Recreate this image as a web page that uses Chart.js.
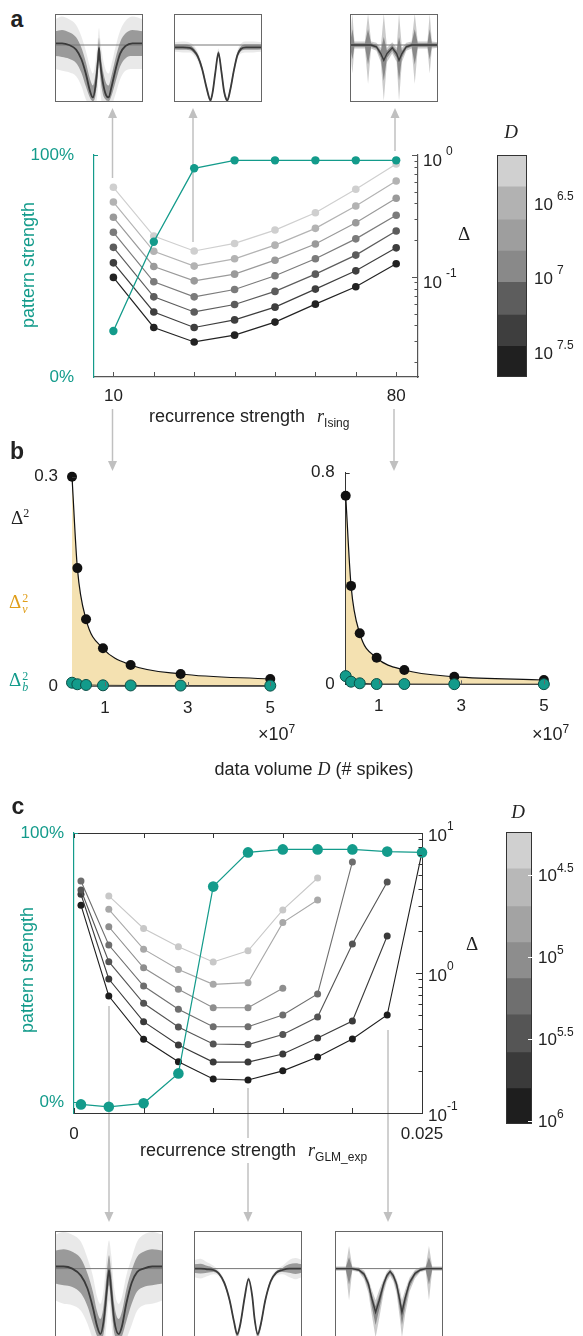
<!DOCTYPE html>
<html>
<head>
<meta charset="utf-8">
<script src="https://cdn.jsdelivr.net/npm/chart.js@4/dist/chart.umd.min.js"></script>
<style>
body { margin: 0; width: 583px; height: 1336px; overflow: hidden; background: #fff; position: relative;
       font-family: "Liberation Sans", Arial, sans-serif; color: #222; font-size: 18px; }
canvas, svg { position: absolute; }
.t { position: absolute; white-space: nowrap; transform: translate(-50%, -50%); }
.tl { position: absolute; white-space: nowrap; transform: translate(0, -50%); }
.m { font-family: "Liberation Serif", "DejaVu Serif", serif; }
.lt { font-weight: bold; font-size: 23px; }
.st { display: inline-flex; flex-direction: column; font-size: 12px; line-height: 11px; vertical-align: middle; margin-left: 1px; }
sup { font-size: 12px; vertical-align: 7px; }
sub { font-size: 12px; vertical-align: -5px; }
</style>
</head>
<body>

<svg width="583" height="1336" style="left:0;top:0">
  <g stroke="#c0c0c0" stroke-width="1.5">
    <line x1="112.5" y1="117" x2="112.5" y2="178"/>
    <line x1="193" y1="117" x2="193" y2="242"/>
    <line x1="395" y1="117" x2="395" y2="151"/>
    <line x1="112.5" y1="409" x2="112.5" y2="462"/>
    <line x1="394" y1="409" x2="394" y2="462"/>
    <line x1="109" y1="1006" x2="109" y2="1213"/>
    <line x1="248" y1="1088" x2="248" y2="1138"/>
    <line x1="248" y1="1163" x2="248" y2="1213"/>
    <line x1="388" y1="1030" x2="388" y2="1213"/>
  </g>
  <g fill="#c0c0c0">
    <polygon points="112.5,108 108,118 117,118"/>
    <polygon points="193,108 188.5,118 197.5,118"/>
    <polygon points="395,108 390.5,118 399.5,118"/>
    <polygon points="112.5,471 108,461 117,461"/>
    <polygon points="394,471 389.5,461 398.5,461"/>
    <polygon points="109,1222 104.5,1212 113.5,1212"/>
    <polygon points="248,1222 243.5,1212 252.5,1212"/>
    <polygon points="388,1222 383.5,1212 392.5,1212"/>
  </g>
</svg>

<canvas id="insA1" width="88" height="88" style="left:55px;top:14px"></canvas>
<canvas id="insA2" width="88" height="88" style="left:174px;top:14px"></canvas>
<canvas id="insA3" width="88" height="88" style="left:350px;top:14px"></canvas>
<canvas id="chartA" width="470" height="300" style="left:0;top:140px"></canvas>
<canvas id="cbarA" width="86" height="260" style="left:497px;top:140px"></canvas>
<canvas id="chartB1" width="290" height="280" style="left:0;top:456px"></canvas>
<canvas id="chartB2" width="293" height="280" style="left:290px;top:456px"></canvas>
<canvas id="chartC" width="480" height="330" style="left:0;top:815px"></canvas>
<canvas id="cbarC" width="77" height="330" style="left:506px;top:815px"></canvas>
<canvas id="insC1" width="108" height="108" style="left:55px;top:1231px"></canvas>
<canvas id="insC2" width="108" height="108" style="left:194px;top:1231px"></canvas>
<canvas id="insC3" width="108" height="108" style="left:335px;top:1231px"></canvas>

<div class="t lt" style="left:17px;top:19px">a</div>
<div class="t lt" style="left:17px;top:451px">b</div>
<div class="t lt" style="left:18px;top:806px">c</div>

<div class="t" style="left:28px;top:265px;color:#139b8b;transform:translate(-50%,-50%) rotate(-90deg)">pattern strength</div>
<div class="tl" style="left:149px;top:418px">recurrence strength<i class="m" style="margin-left:12px">r</i><sub>Ising</sub></div>
<div class="t m" style="left:464px;top:234px;font-size:19px">Δ</div>
<div class="t m" style="left:511px;top:132px;font-size:19px"><i>D</i></div>

<div class="tl m" style="left:11px;top:517px;font-size:19px">Δ<sup>2</sup></div>
<div class="tl m" style="left:9px;top:603px;font-size:19px;color:#e09e1a">Δ<span class="st"><span>2</span><span><i>v</i></span></span></div>
<div class="tl m" style="left:9px;top:681px;font-size:19px;color:#139b8b">Δ<span class="st"><span>2</span><span><i>b</i></span></span></div>
<div class="tl" style="left:258px;top:733px">×10<sup>7</sup></div>
<div class="tl" style="left:532px;top:733px">×10<sup>7</sup></div>
<div class="t" style="left:314px;top:769px">data volume <i class="m">D</i> (# spikes)</div>

<div class="t" style="left:27px;top:970px;color:#139b8b;transform:translate(-50%,-50%) rotate(-90deg)">pattern strength</div>
<div class="tl" style="left:140px;top:1152px">recurrence strength<i class="m" style="margin-left:12px">r</i><sub>GLM_exp</sub></div>
<div class="t m" style="left:472px;top:944px;font-size:19px">Δ</div>
<div class="t m" style="left:518px;top:812px;font-size:19px"><i>D</i></div>

<script>
// ---------- panel a: Ising model ----------
const rIsing = [10, 20, 30, 40, 50, 60, 70, 80];
const rIsingLabels = ['10', '', '', '', '', '', '', '80'];
const patternA = [20.7, 60.9, 94.0, 97.6, 97.6, 97.6, 97.6, 97.6];
const deltaA1 = [0.543, 0.216, 0.163, 0.188, 0.242, 0.336, 0.523, 0.843];
const deltaA2 = [0.411, 0.162, 0.1225, 0.1406, 0.182, 0.250, 0.381, 0.611];
const deltaA3 = [0.308, 0.1217, 0.0927, 0.1052, 0.137, 0.186, 0.278, 0.441];
const deltaA4 = [0.232, 0.091, 0.0685, 0.0787, 0.102, 0.1406, 0.205, 0.320];
const deltaA5 = [0.1746, 0.0685, 0.0515, 0.0593, 0.0759, 0.1052, 0.1508, 0.2377];
const deltaA6 = [0.1303, 0.0515, 0.0384, 0.0443, 0.0564, 0.0793, 0.112, 0.173];
const deltaA7 = [0.0989, 0.0384, 0.0292, 0.0332, 0.0425, 0.0597, 0.0828, 0.128];
const logTicksA = [0.02, 0.03, 0.04, 0.05, 0.06, 0.07, 0.08, 0.09, 0.1, 0.2, 0.3, 0.4, 0.5, 0.6, 0.7, 0.8, 0.9, 1];
const logMajorA = [0.1, 1];
const cbEdgesA = [6.21, 6.42, 6.64, 6.85, 7.06, 7.28, 7.49, 7.70];   // log10 D
const cbTicksA = [6.5, 7, 7.5];

// ---------- panel b: bias / variance ----------
const dVolume = [0.2, 0.33, 0.54, 0.95, 1.62, 2.83, 5.0];   // x 10^7 spikes
const dVolTicks = [1, 3, 5];
const delta2Left = [0.3, 0.169, 0.0956, 0.054, 0.0301, 0.0172, 0.010];
const delta2bLeft = [0.0047, 0.0025, 0.0015, 0.001, 0.0008, 0.0006, 0.0005];
const delta2Right = [0.713, 0.372, 0.193, 0.1006, 0.054, 0.0287, 0.0163];
const delta2bRight = [0.031, 0.0098, 0.0038, 0.001, 0.001, 0.0005, 0.0005];

// ---------- panel c: GLM ----------
const rGLM = [0.0005, 0.0025, 0.005, 0.0075, 0.01, 0.0125, 0.015, 0.0175, 0.02, 0.0225, 0.025];
const rGLMTicks = [0, 0.005, 0.01, 0.015, 0.02, 0.025];
const rGLMLabels = ['0', '', '', '', '', '0.025'];
const patternC = [-0.8, -1.7, -0.4, 10.7, 80.1, 92.8, 93.9, 93.9, 93.9, 93.1, 92.8];
const deltaC1 = [null, 3.55, 2.08, 1.54, 1.20, 1.44, 2.82, 4.77, null, null, null];
const deltaC2 = [null, 2.85, 1.48, 1.06, 0.83, 0.853, 2.29, 3.32, null, null, null];
const deltaC3 = [null, 2.14, 1.09, 0.765, 0.565, 0.565, 0.778, null, null, null, null];
const deltaC4 = [4.54, 1.585, 0.807, 0.551, 0.413, 0.413, 0.501, 0.708, 6.21, null, null];
const deltaC5 = [3.92, 1.205, 0.608, 0.411, 0.311, 0.308, 0.364, 0.485, 1.61, 4.47, null];
const deltaC6 = [3.65, 0.906, 0.449, 0.306, 0.231, 0.231, 0.264, 0.343, 0.454, 1.84, null];
const deltaC7 = [3.05, 0.685, 0.336, 0.232, 0.175, 0.172, 0.2, 0.251, 0.338, 0.501, 7.31];
const logTicksC = [0.1, 0.2, 0.3, 0.4, 0.5, 0.6, 0.7, 0.8, 0.9, 1, 2, 3, 4, 5, 6, 7, 8, 9, 10];
const logMajorC = [0.1, 1, 10];
const cbEdgesC = [4.24, 4.46, 4.69, 4.91, 5.13, 5.35, 5.58, 5.80, 6.02];
const cbTicksC = [4.5, 5, 5.5, 6];

// ---------- insets (x in % of box, y: 0 = reference line, -1 = box bottom) ----------
const insA1x = [0, 8, 16, 24, 30, 35, 40, 43, 46, 49, 50, 51, 54, 58, 61, 64, 69, 74, 80, 88, 100];
const insA1mean = [0.03, 0.03, 0.0, -0.08, -0.25, -0.5, -0.82, -0.92, -0.72, -0.25, -0.05, -0.25, -0.62, -0.88, -0.92, -0.75, -0.42, -0.15, -0.02, 0.03, 0.03];
const insA1hi = [0.45, 0.5, 0.45, 0.35, 0.15, -0.1, -0.4, -0.5, -0.3, 0.15, 0.3, 0.15, -0.2, -0.45, -0.5, -0.35, -0.02, 0.25, 0.42, 0.5, 0.45];
const insA1lo = [-0.42, -0.45, -0.48, -0.55, -0.72, -0.95, -1.05, -1.05, -1.05, -0.7, -0.4, -0.7, -1.05, -1.05, -1.05, -1.05, -0.85, -0.6, -0.45, -0.42, -0.42];

const insA2x = [0, 10, 18, 22, 27, 32, 37, 41.5, 44, 47, 50.5, 54, 57, 60.6, 64, 68, 72, 76, 82, 90, 100];
const insA2mean = [-0.04, -0.04, -0.05, -0.09, -0.2, -0.42, -0.75, -0.97, -0.82, -0.48, -0.14, -0.48, -0.82, -0.97, -0.78, -0.45, -0.18, -0.07, -0.04, -0.04, -0.04];
const insA2hi = [0.05, 0.06, 0.04, 0.0, -0.12, -0.35, -0.68, -0.9, -0.75, -0.4, -0.06, -0.4, -0.75, -0.9, -0.7, -0.37, -0.1, 0.02, 0.06, 0.06, 0.05];
const insA2lo = [-0.12, -0.13, -0.13, -0.17, -0.28, -0.5, -0.83, -1.02, -0.9, -0.56, -0.22, -0.56, -0.9, -1.02, -0.86, -0.53, -0.26, -0.15, -0.13, -0.13, -0.12];

const insA3x = [0, 2.7, 5, 17, 20.5, 24, 30, 35, 38.4, 42, 48, 53, 55.7, 59, 64, 70, 73.6, 77, 88, 90.6, 93, 100];
const insA3mean = [0, 0, 0, 0, 0, 0, -0.03, -0.15, -0.27, -0.15, -0.05, -0.15, -0.27, -0.15, -0.03, 0, 0, 0, 0, 0, 0, 0];
const insA3hi = [0.05, 0.55, 0.06, 0.06, 0.55, 0.06, 0.04, -0.05, 0.55, -0.05, 0.05, -0.05, 0.55, -0.05, 0.04, 0.06, 0.55, 0.06, 0.06, 0.55, 0.06, 0.05];
const insA3lo = [-0.05, -0.5, -0.06, -0.06, -0.68, -0.06, -0.1, -0.3, -0.98, -0.3, -0.15, -0.3, -0.98, -0.3, -0.1, -0.06, -0.68, -0.06, -0.06, -0.5, -0.06, -0.05];

const insC1x = [0, 8, 16, 24, 30, 35, 39, 42, 45, 48, 50, 52, 55, 59, 62, 66, 71, 76, 82, 90, 100];
const insC1mean = [0.03, 0.03, 0.0, -0.1, -0.28, -0.55, -0.82, -0.93, -0.75, -0.3, -0.02, -0.3, -0.75, -0.93, -0.82, -0.5, -0.2, -0.05, 0.0, 0.03, 0.03];
const insC1hi = [0.48, 0.52, 0.48, 0.38, 0.15, -0.1, -0.4, -0.5, -0.3, 0.2, 0.4, 0.2, -0.3, -0.5, -0.4, -0.1, 0.15, 0.38, 0.48, 0.52, 0.48];
const insC1lo = [-0.45, -0.5, -0.52, -0.6, -0.78, -1.0, -1.1, -1.1, -1.1, -0.75, -0.45, -0.75, -1.1, -1.1, -1.1, -1.0, -0.8, -0.6, -0.52, -0.5, -0.45];

const insC2x = [0, 6, 12, 18, 23, 28, 33, 37, 40, 43, 47, 50.5, 54, 56, 59, 62, 66, 71, 76, 82, 88, 94, 100];
const insC2mean = [0.0, 0.0, -0.01, -0.02, -0.07, -0.2, -0.45, -0.75, -0.93, -0.78, -0.4, -0.15, -0.4, -0.7, -0.93, -0.78, -0.45, -0.18, -0.06, -0.02, 0.0, 0.0, 0.0];
const insC2hi = [0.12, 0.14, 0.09, 0.04, -0.03, -0.16, -0.41, -0.71, -0.89, -0.74, -0.36, -0.11, -0.36, -0.66, -0.89, -0.74, -0.41, -0.14, -0.02, 0.04, 0.12, 0.15, 0.12];
const insC2lo = [-0.12, -0.14, -0.11, -0.08, -0.11, -0.25, -0.5, -0.82, -1.02, -0.86, -0.45, -0.2, -0.45, -0.76, -1.02, -0.86, -0.5, -0.23, -0.1, -0.08, -0.12, -0.15, -0.12];

const insC3x = [0, 10, 13, 16, 22, 27, 31, 34, 37.6, 41, 45, 48, 51, 54, 57, 60, 62, 65, 69, 74, 79, 84, 87, 90, 100];
const insC3mean = [0, 0, 0, 0, -0.02, -0.08, -0.22, -0.42, -0.62, -0.45, -0.22, -0.1, -0.04, -0.1, -0.22, -0.45, -0.62, -0.42, -0.2, -0.07, -0.02, 0, 0, 0, 0];
const insC3hi = [0.03, 0.03, 0.32, 0.03, 0.02, -0.03, -0.15, -0.3, -0.45, -0.3, -0.15, -0.05, 0.0, -0.05, -0.15, -0.3, -0.45, -0.3, -0.13, -0.02, 0.02, 0.03, 0.32, 0.03, 0.03];
const insC3lo = [-0.03, -0.03, -0.45, -0.03, -0.05, -0.15, -0.35, -0.65, -0.98, -0.7, -0.35, -0.18, -0.1, -0.18, -0.35, -0.7, -0.98, -0.65, -0.33, -0.14, -0.05, -0.03, -0.45, -0.03, -0.03];

const TEAL = '#139b8b';
const TAN = '#f4e1b1';
const FONT = '"Liberation Sans", Arial, sans-serif';
const grayA = ['#cfcfcf', '#b3b3b3', '#9a9a9a', '#7b7b7b', '#5c5c5c', '#3e3e3e', '#222222'];
const grayC = ['#c8c8c8', '#a8a8a8', '#8e8e8e', '#6e6e6e', '#545454', '#3a3a3a', '#1d1d1d'];
const cbShadesA = ['#d0d0d0', '#b2b2b2', '#9e9e9e', '#898989', '#5d5d5d', '#3e3e3e', '#202020'];
const cbShadesC = ['#d0d0d0', '#b8b8b8', '#a3a3a3', '#8d8d8d', '#6f6f6f', '#555555', '#3a3a3a', '#1e1e1e'];

Chart.defaults.font.family = FONT;
Chart.defaults.color = '#222';
Chart.defaults.animation = false;
Chart.defaults.responsive = false;
Chart.defaults.events = [];
Chart.defaults.plugins.legend.display = false;
Chart.defaults.plugins.tooltip.enabled = false;

// keep the plot area where it is: labels may hang outside it
function noPad(s) { s.paddingTop = 0; s.paddingBottom = 0; s.paddingLeft = 0; s.paddingRight = 0; }

// extra drawing: inward tick marks, frames, 10^x labels
function deco(cfg) {
  return {
    id: 'deco',
    afterDatasetsDraw(chart) {
      const ctx = chart.ctx, a = chart.chartArea;
      ctx.save();
      ctx.lineWidth = 1;
      if (cfg.frame) {
        ctx.strokeStyle = cfg.frame;
        ctx.strokeRect(a.left + 0.5, a.top + 0.5, a.right - a.left - 1, a.bottom - a.top - 1);
      }
      if (cfg.topLine) {
        ctx.strokeStyle = cfg.topLine;
        ctx.beginPath(); ctx.moveTo(a.left, a.top + 0.5); ctx.lineTo(a.right, a.top + 0.5); ctx.stroke();
      }
      (cfg.ticks || []).forEach(t => {
        const s = chart.scales[t.scale];
        ctx.strokeStyle = t.color;
        t.values.forEach(v => {
          const len = (t.major && !t.major.includes(v)) ? t.minorLen : t.len;
          const p = Math.round(s.getPixelForValue(v)) + 0.5;
          ctx.beginPath();
          if (t.side === 'bottom') { ctx.moveTo(p, a.bottom); ctx.lineTo(p, a.bottom - len); }
          else if (t.side === 'top') { ctx.moveTo(p, a.top); ctx.lineTo(p, a.top + len); }
          else if (t.side === 'right') { ctx.moveTo(a.right, p); ctx.lineTo(a.right - len, p); }
          else { ctx.moveTo(a.left, p); ctx.lineTo(a.left + len, p); }
          ctx.stroke();
        });
      });
      (cfg.pow || []).forEach(p => {
        const s = chart.scales[p.scale];
        ctx.fillStyle = '#222'; ctx.textBaseline = 'middle'; ctx.textAlign = 'left';
        p.values.forEach((v, i) => {
          const y = s.getPixelForValue(v), x = a.right + p.dx;
          ctx.font = p.size + 'px ' + FONT;
          ctx.fillText('10', x, y + p.dy);
          const w = ctx.measureText('10').width;
          ctx.font = p.supSize + 'px ' + FONT;
          ctx.fillText(p.exps[i], x + w + p.gap, y + p.dy - p.raise);
        });
      });
      ctx.restore();
    }
  };
}

function pts(xs, ys) {
  const out = [];
  xs.forEach((x, i) => { if (ys[i] !== null) out.push({ x, y: ys[i] }); });
  return out;
}

// ---------- panel a ----------
const dsA = [deltaA1, deltaA2, deltaA3, deltaA4, deltaA5, deltaA6, deltaA7].map((vals, k) => ({
  data: pts(rIsing, vals), yAxisID: 'yD', borderColor: grayA[k], pointBackgroundColor: grayA[k],
  borderWidth: 1.2, pointRadius: 3.8, pointBorderWidth: 0, order: 2 + k, clip: false
}));
dsA.push({
  data: pts(rIsing, patternA), yAxisID: 'yP', borderColor: TEAL, pointBackgroundColor: TEAL,
  borderWidth: 1.3, pointRadius: 4.2, pointBorderWidth: 0, order: 1, clip: false
});

new Chart(document.getElementById('chartA'), {
  type: 'line',
  data: { datasets: dsA },
  options: {
    layout: { padding: { top: 15 } },
    scales: {
      x: {
        type: 'linear', min: 5.2, max: 85.4,
        afterBuildTicks: s => { s.ticks = rIsing.map(v => ({ value: v })); },
        afterFit: s => { s.height = 63; noPad(s); },
        ticks: { autoSkip: false, maxRotation: 0, padding: 9, font: { size: 17 }, color: '#222', callback: (v, i) => rIsingLabels[i] },
        grid: { display: false, drawTicks: false },
        border: { color: '#555', width: 1.2 }
      },
      yP: {
        position: 'left', min: 0, max: 100,
        afterBuildTicks: s => { s.ticks = [{ value: 0 }, { value: 100 }]; },
        afterFit: s => { s.width = 94; noPad(s); },
        ticks: { padding: 20, font: { size: 17 }, color: TEAL, callback: v => v + '%' },
        grid: { display: false, drawTicks: false },
        border: { color: TEAL, width: 1.2 }
      },
      yD: {
        type: 'logarithmic', position: 'right', min: 0.01506, max: 1,
        afterFit: s => { s.width = 52; noPad(s); },
        ticks: { display: false },
        grid: { display: false, drawTicks: false },
        border: { color: '#555', width: 1.2 }
      }
    }
  },
  plugins: [deco({
    ticks: [
      { scale: 'x', side: 'bottom', values: rIsing, len: 5, color: '#555' },
      { scale: 'yD', side: 'right', values: logTicksA, major: logMajorA, len: 6, minorLen: 3.5, color: '#555' },
      { scale: 'yP', side: 'left', values: [100], len: 4, color: TEAL }
    ],
    pow: [{ scale: 'yD', values: logMajorA, exps: logMajorA.map(v => String(Math.round(Math.log10(v)))), dx: 5, dy: 6, raise: 9, gap: 4, size: 17, supSize: 12 }]
  })]
});

// ---------- colorbars ----------
function makeColorbar(id, edges, shades, ticks, padding, powOpt, whiteTicks) {
  new Chart(document.getElementById(id), {
    type: 'bar',
    data: {
      labels: [''],
      datasets: shades.map((c, i) => ({
        data: [[edges[i], edges[i + 1]]], backgroundColor: c, borderWidth: 0,
        grouped: false, barPercentage: 1, categoryPercentage: 1
      }))
    },
    options: {
      layout: { padding },
      scales: {
        x: { display: false },
        y: { display: false, min: edges[0], max: edges[edges.length - 1], reverse: true }
      }
    },
    plugins: [deco({
      frame: '#333',
      ticks: whiteTicks ? [{ scale: 'y', side: 'right', values: ticks, len: 4, color: '#ffffff' }] : [],
      pow: [Object.assign({ scale: 'y', values: ticks, exps: ticks.map(String) }, powOpt)]
    })]
  });
}
makeColorbar('cbarA', cbEdgesA, cbShadesA, cbTicksA, { top: 15, bottom: 23, right: 56 },
  { dx: 7, dy: 7, raise: 9, gap: 4, size: 17, supSize: 12 }, false);
makeColorbar('cbarC', cbEdgesC, cbShadesC, cbTicksC, { top: 17, bottom: 21, right: 51 },
  { dx: 6, dy: 2, raise: 8, gap: 0, size: 17, supSize: 12 }, true);

// ---------- panel b ----------
function makeB(id, black, teal, yMax, leftW, padR, padT, botH, labPad) {
  new Chart(document.getElementById(id), {
    type: 'line',
    data: {
      datasets: [
        { data: pts(dVolume, teal), borderColor: '#333', borderWidth: 1, pointRadius: 5.5,
          pointBackgroundColor: TEAL, pointBorderColor: '#0c4f47', pointBorderWidth: 1, order: 0, clip: false },
        { data: pts(dVolume, black), borderColor: '#111', borderWidth: 1.2, pointRadius: 5,
          pointBackgroundColor: '#111', pointBorderWidth: 0, fill: 'origin', backgroundColor: TAN,
          cubicInterpolationMode: 'monotone', order: 1, clip: false }
      ]
    },
    options: {
      layout: { padding: { top: padT, right: padR } },
      scales: {
        x: {
          type: 'linear', min: 0.2, max: 5.1,
          afterBuildTicks: s => { s.ticks = dVolTicks.map(v => ({ value: v })); },
          afterFit: s => { s.height = botH; noPad(s); },
          ticks: { autoSkip: false, maxRotation: 0, padding: 12, font: { size: 17 }, color: '#222', callback: v => String(v) },
          grid: { display: false, drawTicks: false },
          border: { color: '#666' }
        },
        y: {
          min: 0, max: yMax,
          afterBuildTicks: s => { s.ticks = [{ value: 0 }, { value: yMax }]; },
          afterFit: s => { s.width = leftW; noPad(s); },
          ticks: { padding: labPad, font: { size: 17 }, color: '#222', callback: v => String(v) },
          grid: { display: false, drawTicks: false },
          border: { color: '#333' }
        }
      }
    },
    plugins: [deco({
      ticks: [
        { scale: 'x', side: 'bottom', values: dVolTicks, len: 4, color: '#666' },
        { scale: 'y', side: 'left', values: [yMax], len: 4, color: '#333' }
      ]
    })]
  });
}
makeB('chartB1', delta2Left, delta2bLeft, 0.3, 72, 15.6, 20.7, 50, 14);
makeB('chartB2', delta2Right, delta2bRight, 0.8, 55.7, 35, 16.7, 51.7, 11);

// ---------- panel c ----------
const dsC = [deltaC1, deltaC2, deltaC3, deltaC4, deltaC5, deltaC6, deltaC7].map((vals, k) => ({
  data: pts(rGLM, vals), yAxisID: 'yD', borderColor: grayC[k], pointBackgroundColor: grayC[k],
  borderWidth: 1.1, pointRadius: 3.5, pointBorderWidth: 0, order: 2 + k, clip: false
}));
dsC.push({
  data: pts(rGLM, patternC), yAxisID: 'yP', borderColor: TEAL, pointBackgroundColor: TEAL,
  borderWidth: 1.2, pointRadius: 5.3, pointBorderWidth: 0, order: 1, clip: false
});

new Chart(document.getElementById('chartC'), {
  type: 'line',
  data: { datasets: dsC },
  options: {
    layout: { padding: { top: 18 } },
    scales: {
      x: {
        type: 'linear', min: 0, max: 0.025,
        afterBuildTicks: s => { s.ticks = rGLMTicks.map(v => ({ value: v })); },
        afterFit: s => { s.height = 32; noPad(s); },
        ticks: { autoSkip: false, maxRotation: 0, padding: 11, font: { size: 17 }, color: '#222', callback: (v, i) => rGLMLabels[i] },
        grid: { display: false, drawTicks: false },
        border: { color: '#333' }
      },
      yP: {
        position: 'left', min: -4, max: 100,
        afterBuildTicks: s => { s.ticks = [{ value: 0 }, { value: 100 }]; },
        afterFit: s => { s.width = 74; noPad(s); },
        ticks: { padding: 10, font: { size: 17 }, color: TEAL, callback: v => v + '%' },
        grid: { display: false, drawTicks: false },
        border: { color: TEAL, width: 1.2 }
      },
      yD: {
        type: 'logarithmic', position: 'right', min: 0.1, max: 10,
        afterFit: s => { s.width = 58; noPad(s); },
        ticks: { display: false },
        grid: { display: false, drawTicks: false },
        border: { color: '#333' }
      }
    }
  },
  plugins: [deco({
    topLine: '#333',
    ticks: [
      { scale: 'x', side: 'bottom', values: rGLMTicks, len: 5, color: '#333' },
      { scale: 'x', side: 'top', values: rGLMTicks, len: 5, color: '#333' },
      { scale: 'yD', side: 'right', values: logTicksC, major: logMajorC, len: 6, minorLen: 3.5, color: '#333' },
      { scale: 'yP', side: 'left', values: [0, 100], len: 4, color: TEAL }
    ],
    pow: [{ scale: 'yD', values: logMajorC, exps: logMajorC.map(v => String(Math.round(Math.log10(v)))), dx: 6, dy: 3, raise: 9, gap: 0, size: 17, supSize: 12 }]
  })]
});

// ---------- insets ----------
function makeInset(id, xs, mean, hi, lo, yMax, smooth) {
  const innerHi = mean.map((m, i) => (m + hi[i]) / 2);
  const innerLo = mean.map((m, i) => (m + lo[i]) / 2);
  const curve = smooth ? { cubicInterpolationMode: 'monotone' } : { tension: 0 };
  const band = (arr, fill, bg, order) => Object.assign({
    data: pts(xs, arr), pointRadius: 0, borderWidth: 0, fill, backgroundColor: bg, order
  }, curve);
  new Chart(document.getElementById(id), {
    type: 'line',
    data: {
      datasets: [
        band(hi, '+1', smooth ? 'rgba(70,70,70,0.12)' : 'rgba(70,70,70,0.28)', 5),
        band(lo, false, 'rgba(0,0,0,0)', 6),
        band(innerHi, '+1', 'rgba(45,45,45,0.42)', 3),
        band(innerLo, false, 'rgba(0,0,0,0)', 4),
        Object.assign({ data: pts(xs, mean), borderColor: '#3a3a3a', borderWidth: smooth ? 1.8 : 1.4, pointRadius: 0, order: 0 }, curve),
        { data: [{ x: 0, y: 0 }, { x: 100, y: 0 }], borderColor: '#777', borderWidth: 1, pointRadius: 0, order: 1 }
      ]
    },
    options: {
      scales: {
        x: { type: 'linear', display: false, min: 0, max: 100 },
        y: { display: false, min: -1, max: yMax }
      }
    },
    plugins: [deco({ frame: '#666' })]
  });
}
makeInset('insA1', insA1x, insA1mean, insA1hi, insA1lo, 0.544, true);
makeInset('insA2', insA2x, insA2mean, insA2hi, insA2lo, 0.544, true);
makeInset('insA3', insA3x, insA3mean, insA3hi, insA3lo, 0.544, false);
makeInset('insC1', insC1x, insC1mean, insC1hi, insC1lo, 0.534, true);
makeInset('insC2', insC2x, insC2mean, insC2hi, insC2lo, 0.534, true);
makeInset('insC3', insC3x, insC3mean, insC3hi, insC3lo, 0.534, false);
</script>
</body>
</html>
